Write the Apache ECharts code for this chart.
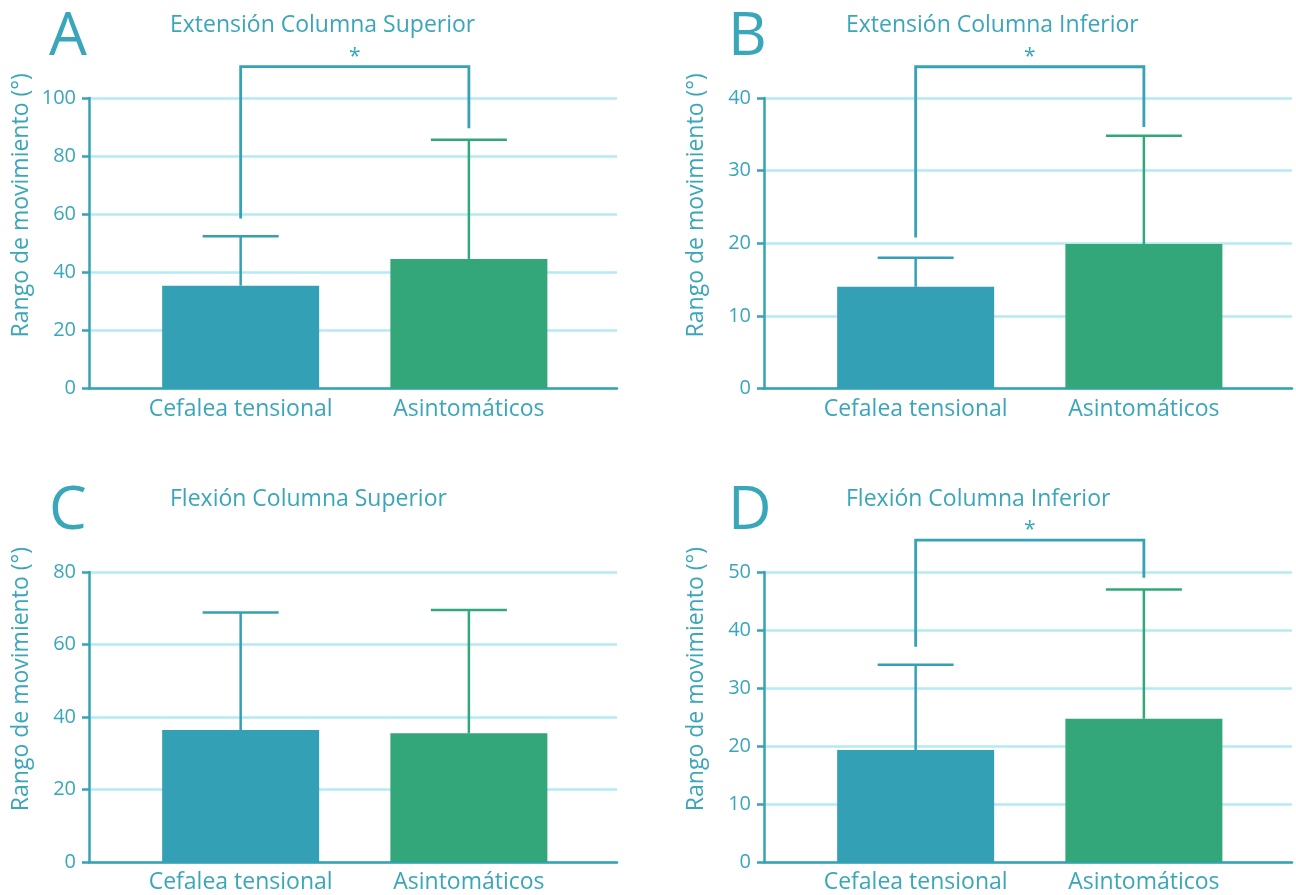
<!DOCTYPE html>
<html>
<head>
<meta charset="utf-8">
<script src="https://cdn.jsdelivr.net/npm/echarts@6/dist/echarts.min.js"></script>
<style>
html,body{margin:0;padding:0;background:#fff;}
#chart{width:1296px;height:895px;}
</style>
</head>
<body>
<div id="chart"></div>
<script>
// ---- data ----
const categories = ['Cefalea tensional', 'Asintomáticos'];
const panelLetters = ['A', 'B', 'C', 'D'];
const panelTitles = ['Extensión Columna Superior', 'Extensión Columna Inferior', 'Flexión Columna Superior', 'Flexión Columna Inferior'];
const yAxisName = 'Rango de movimiento (°)';
const yMax = [100, 40, 80, 50];
const yInterval = [20, 10, 20, 10];

const extSupMean = [35.4, 44.6];
const extSupUpper = [52.4, 85.6];
const extInfMean = [14.0, 19.9];
const extInfUpper = [18.0, 34.8];
const flexSupMean = [36.4, 35.5];
const flexSupUpper = [68.8, 69.5];
const flexInfMean = [19.3, 24.7];
const flexInfUpper = [34.0, 47.0];

// significance brackets: [left leg bottom, bracket top, right leg bottom]; null = none
const bracketA = [58.5, 110.8, 89.6];
const bracketB = [20.8, 44.3, 36.0];
const bracketC = null;
const bracketD = [37.1, 55.5, 49.0];
const sigMark = '*';

const means = [extSupMean, extInfMean, flexSupMean, flexInfMean];
const uppers = [extSupUpper, extInfUpper, flexSupUpper, flexInfUpper];
const brackets = [bracketA, bracketB, bracketC, bracketD];

// ---- styles ----
const barColors = ['#33A0B5', '#33A77A'];
const axisColor = '#35A2B6';
const textColor = '#3AA6B9';
const gridColor = '#B3EAF3';
const FONT = 'Open Sans';

const grids = [
  {left: 89, top: 98, width: 528, height: 290.5},
  {left: 764, top: 98, width: 528, height: 290.5},
  {left: 89, top: 572, width: 528, height: 290},
  {left: 764, top: 572, width: 528, height: 290}
];
const titlePos = [
  {title: [170, 14], letter: [49, 8]},
  {title: [846, 14], letter: [728, 8]},
  {title: [170, 488], letter: [49, 482]},
  {title: [846, 488], letter: [728, 482]}
];

const xAxes = [], yAxes = [], series = [], titles = [];

for (let i = 0; i < 4; i++) {
  titles.push({
    text: panelTitles[i], left: titlePos[i].title[0], top: titlePos[i].title[1], padding: 0,
    textStyle: {color: textColor, fontFamily: FONT, fontSize: 23, fontWeight: 'normal'}
  });
  titles.push({
    text: panelLetters[i], left: titlePos[i].letter[0], top: titlePos[i].letter[1], padding: 0,
    textStyle: {color: textColor, fontFamily: FONT, fontSize: 60, fontWeight: 'normal'}
  });
  xAxes.push({
    type: 'value', gridIndex: i, min: -0.6645, max: 1.649,
    axisLine: {show: true, onZero: false, lineStyle: {color: axisColor, width: 2.5}},
    axisTick: {show: false},
    splitLine: {show: false},
    axisLabel: {
      customValues: [0, 1],
      formatter: v => categories[Math.round(v)],
      color: textColor, fontFamily: FONT, fontSize: 23, margin: 9
    }
  });
  yAxes.push({
    type: 'value', gridIndex: i, min: 0, max: yMax[i], interval: yInterval[i],
    name: yAxisName, nameLocation: 'middle', nameGap: 56,
    nameTextStyle: {color: textColor, fontFamily: FONT, fontSize: 23, padding: [0, 0, 0, 76]},
    axisLine: {show: true, onZero: false, lineStyle: {color: axisColor, width: 2.5}},
    axisTick: {show: true, length: 7, lineStyle: {color: axisColor, width: 2.5}},
    splitLine: {show: true, lineStyle: {color: gridColor, width: 2.5}},
    axisLabel: {color: textColor, fontFamily: FONT, fontSize: 20, margin: 13}
  });
  series.push({
    type: 'bar', xAxisIndex: i, yAxisIndex: i, barWidth: 157,
    data: means[i].map((v, k) => ({value: [k, v], itemStyle: {color: barColors[k]}}))
  });
  series.push({
    type: 'custom', xAxisIndex: i, yAxisIndex: i, z: 3,
    data: means[i].map((v, k) => [k, v, uppers[i][k]]),
    encode: {x: 0, y: [1, 2]},
    renderItem: function (params, api) {
      const x = api.value(0), m = api.value(1), u = api.value(2);
      const p0 = api.coord([x, m]), p1 = api.coord([x, u]);
      const c = barColors[params.dataIndex];
      const half = 38;
      return {type: 'group', children: [
        {type: 'line', shape: {x1: p0[0], y1: p0[1], x2: p1[0], y2: p1[1]}, style: {stroke: c, lineWidth: 2.5}},
        {type: 'line', shape: {x1: p1[0] - half, y1: p1[1], x2: p1[0] + half, y2: p1[1]}, style: {stroke: c, lineWidth: 2.5}}
      ]};
    }
  });
  if (brackets[i]) {
    const b = brackets[i];
    series.push({
      type: 'custom', xAxisIndex: i, yAxisIndex: i, z: 4, clip: false,
      data: [[0, 1, b[0], b[1], b[2]]],
      encode: {x: [0, 1], y: [2, 3, 4]},
      renderItem: function (params, api) {
        const x0 = api.value(0), x1 = api.value(1);
        const a = api.coord([x0, api.value(2)]);
        const t0 = api.coord([x0, api.value(3)]);
        const t1 = api.coord([x1, api.value(3)]);
        const d = api.coord([x1, api.value(4)]);
        return {type: 'group', children: [
          {type: 'polyline', shape: {points: [a, t0, t1, d]}, style: {stroke: axisColor, lineWidth: 2.8, fill: 'none'}},
          {type: 'text', style: {text: sigMark, x: (t0[0] + t1[0]) / 2, y: t0[1] - 10, align: 'center', verticalAlign: 'middle',
            fill: textColor, fontFamily: FONT, fontSize: 21}}
        ]};
      }
    });
  }
}

const chart = echarts.init(document.getElementById('chart'), null, {renderer: 'canvas'});
chart.setOption({
  animation: false,
  backgroundColor: '#ffffff',
  title: titles,
  grid: grids,
  xAxis: xAxes,
  yAxis: yAxes,
  series: series
});
</script>
</body>
</html>
